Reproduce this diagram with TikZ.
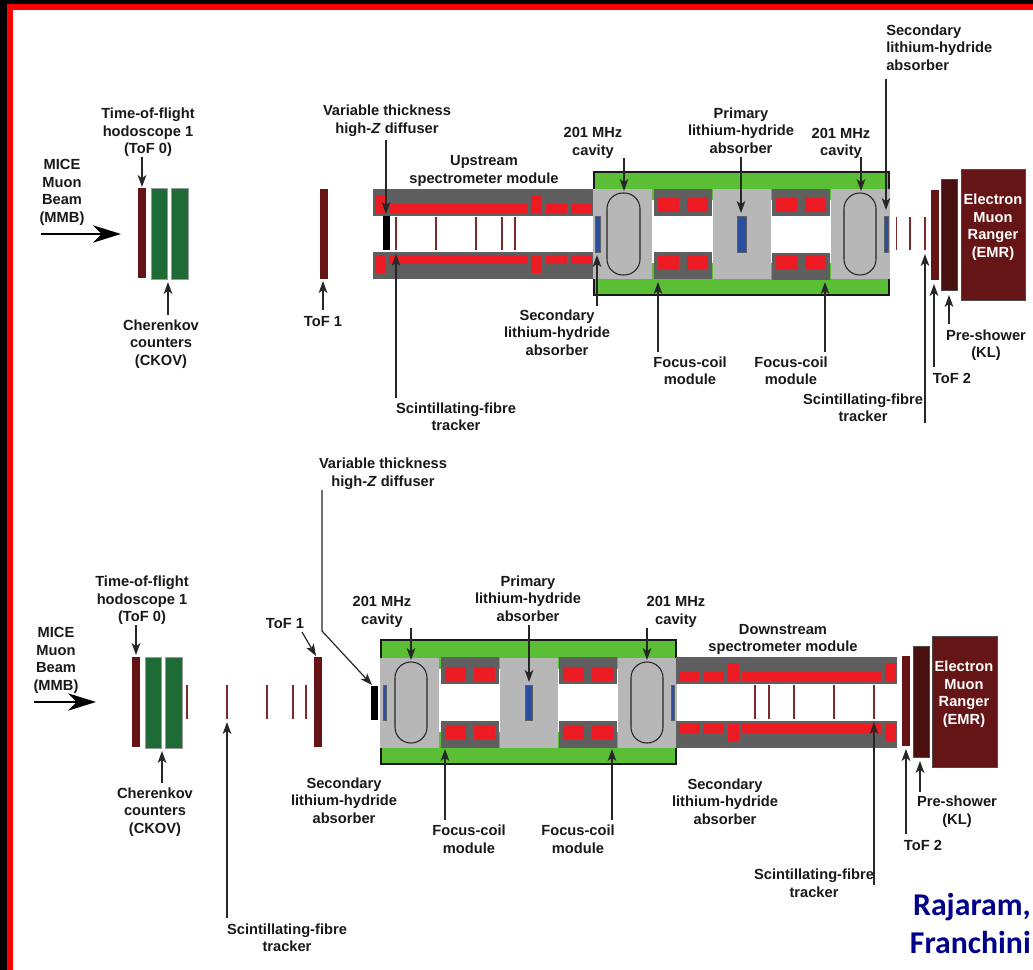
\documentclass[tikz,border=0pt]{standalone}
\usepackage{fontspec}
\setmainfont{Liberation Sans}
\newfontfamily\credfont{Carlito}
\usetikzlibrary{arrows.meta}
\definecolor{band}{HTML}{5F5F5F}
\definecolor{cell}{HTML}{B7B7B7}
\definecolor{coil}{HTML}{ED1C24}
\definecolor{jacket}{HTML}{5ABF35}
\definecolor{tof}{HTML}{651515}
\definecolor{klc}{HTML}{4A1010}
\definecolor{ckov}{HTML}{1E6B36}
\definecolor{lih}{HTML}{2B4FA0}
\definecolor{fibre}{HTML}{7F2A2A}
\definecolor{cred}{HTML}{00008B}
\tikzset{
 lab/.style={font=\bfseries\fontsize{11}{13.1}\selectfont,align=center,inner sep=0pt,text=black!90,yshift=-1.4pt},
 emrtxt/.style={lab,text=white},
 arr/.style={line width=.9pt,black!85,-{Stealth[length=9pt,width=6.5pt,inset=2.4pt]}},
 beam/.style={line width=1.7pt,black,-{Stealth[length=21pt,width=13pt,inset=6.5pt]}},
 fib/.style={line width=.8pt,fibre},
 cav/.style={draw=black!85,line width=.8pt,fill=cell,rounded corners=11.9pt},
 dkbox/.style={draw=black!70,line width=.5pt},
 liab/.style={fill=lih,draw=band,line width=.5pt},
 wall/.style={draw=black!90,line width=1.6pt,fill=jacket}
}
\newcommand{\rr}[5]{\fill[#5] (#1,#2) rectangle (#3,#4);}
\newcommand{\lab}[4]{\node[lab] (#1) at (#2,#3) {#4};}
\newcommand{\conn}[5]{\coordinate (#1s) at (#2,#3);\coordinate (#1e) at (#4,#5);\draw[arr] (#1s) -- (#1e);}
% focus-coil module: x of left edge, top y of upper and lower halves
\newcommand{\fcmod}[3]{%
 \rr{#1}{#2}{#1+58}{#2+27}{band}\rr{#1}{#3}{#1+58}{#3+27}{band}
 \rr{#1+4}{#2+9.5}{#1+25}{#2+23.5}{coil}\rr{#1+33}{#2+9.5}{#1+54}{#2+23.5}{coil}
 \rr{#1+4}{#3+3.5}{#1+25}{#3+17.5}{coil}\rr{#1+33}{#3+3.5}{#1+54}{#3+17.5}{coil}}
\begin{document}
\begin{tikzpicture}[x=.75pt,y=-.75pt]
\useasboundingbox (0,0) rectangle (1033,970);
\fill[white] (0,0) rectangle (1033,970);
% frame
\rr{0}{0}{1033}{4}{black}\rr{0}{0}{7}{970}{black}
\rr{7}{4}{1033}{10}{red}\rr{7}{4}{13}{970}{red}

% ===== TOP =====
\rr{138}{188}{146}{278}{tof}
\rr{151}{188}{167.5}{279}{ckov}\rr{171}{188}{188}{279}{ckov}
\draw[dkbox,draw=black!40] (151,188) rectangle (167.5,279) (171,188) rectangle (188,279);
\rr{320}{189}{328}{279}{tof}
% upstream spectrometer
\rr{373}{189}{594}{216}{band}\rr{373}{252}{594}{279}{band}
\rr{375}{195}{386}{213}{coil}\rr{389}{204}{528}{213}{coil}\rr{531}{195}{542}{213}{coil}\rr{546}{204}{567}{213}{coil}\rr{571}{204}{592}{213}{coil}
\rr{375}{255}{386}{273}{coil}\rr{389}{255}{528}{264}{coil}\rr{531}{255}{542}{273}{coil}\rr{546}{255}{567}{264}{coil}\rr{571}{255}{592}{264}{coil}
\rr{383}{216}{390}{250}{black}
\foreach \x in {396,436,476,502,515}{\draw[fib] (\x,217) -- (\x,250);}
% top cooling channel
\draw[wall] (594,172) rectangle (889,295);
\rr{652}{200}{713}{263}{white}\rr{771}{200}{831}{263}{white}
\rr{593}{189}{652}{279}{cell}\rr{713}{189}{771}{279}{cell}\rr{831}{189}{890}{279}{cell}
\fcmod{654}{189}{252}\fcmod{772}{189}{253}
\draw[cav] (607,193) rectangle (640,275);
\draw[cav] (844,193) rectangle (876,275);
\draw[liab] (595,216) rectangle (600,252);
\draw[liab] (737,216) rectangle (746,252);
\draw[liab] (884,216) rectangle (888,252);
\foreach \x in {896.5,910,925}{\draw[fib] (\x,217) -- (\x,250);}
\rr{931}{190}{939}{280}{tof}
\draw[dkbox,fill=klc] (941,179) rectangle (957,290);
\draw[dkbox,fill=tof] (961,169) rectangle (1025,300);
\node[emrtxt] (emrA) at (993,225.5) {Electron\\Muon\\Ranger\\(EMR)};
\lab{mmbA}{62}{190.5}{MICE\\Muon\\Beam\\(MMB)}
\lab{tofA}{148}{130.5}{Time-of-flight\\hodoscope 1\\(ToF 0)}
\lab{ckA}{161}{342}{Cherenkov\\counters\\(CKOV)}
\lab{tofoneA}{323}{320}{ToF 1}
\lab{difA}{387}{119}{Variable thickness\\high-\textit{Z} diffuser}
\lab{upA}{484}{169}{Upstream\\spectrometer module}
\lab{cavaA}{593}{141}{201 MHz\\cavity}
\lab{priA}{741}{128.5}{Primary\\lithium-hydride\\absorber}
\lab{cavbA}{841}{141.5}{201 MHz\\cavity}
\node[lab,anchor=west,align=left] (secbA) at (886,45.5) {Secondary\\lithium-hydride\\absorber};
\lab{secaA}{557}{330.5}{Secondary\\lithium-hydride\\absorber}
\lab{fcaA}{690}{369}{Focus-coil\\module}
\lab{fcbA}{791}{369}{Focus-coil\\module}
\lab{sfaA}{456}{415}{Scintillating-fibre\\tracker}
\lab{sfbA}{863}{406}{Scintillating-fibre\\tracker}
\lab{toftA}{952}{377}{ToF 2}
\lab{klA}{986}{343.5}{Pre-shower\\(KL)}
\coordinate (bas) at (41,234);\coordinate (bae) at (121,234);\draw[beam] (bas) -- (bae);
\conn{a1}{142}{157}{142}{187}
\conn{a2}{168}{315}{168}{282}
\conn{a3}{323}{310}{323}{281}
\conn{a4}{386}{140}{386}{214}
\conn{a5}{624}{158}{624}{191}
\conn{a6}{741}{157}{741}{213}
\conn{a7}{861}{157}{861}{191}
\conn{a8}{886}{79}{886}{210}
\conn{a9}{597}{306}{597}{255}
\conn{a10}{658}{352}{658}{282}
\conn{a11}{825}{352}{825}{282}
\conn{a12}{396}{398}{396}{254}
\conn{a13}{925}{423}{925}{254}
\conn{a14}{934}{367}{934}{284}
\conn{a15}{949}{324}{949}{295}

% ===== BOTTOM =====
\rr{132}{657}{140}{747}{tof}
\rr{145}{657}{161.5}{748}{ckov}\rr{165}{657}{182}{748}{ckov}
\draw[dkbox,draw=black!40] (145,657) rectangle (161.5,748) (165,657) rectangle (182,748);
\foreach \x in {187,227,267,293,306}{\draw[fib] (\x,685) -- (\x,719);}
\rr{314}{657}{322}{747}{tof}
\rr{371}{686}{378}{720}{black}
\draw[wall] (381,640) rectangle (676,764);
\rr{439}{669}{500}{732}{white}\rr{558}{669}{618}{732}{white}
\rr{380}{658}{439}{748}{cell}\rr{500}{658}{558}{748}{cell}\rr{618}{658}{677}{748}{cell}
\fcmod{441}{657}{721}\fcmod{559}{657}{721}
\draw[cav] (395,662) rectangle (427,743);
\draw[cav] (631,662) rectangle (663,743);
\draw[liab] (383,685) rectangle (386,720);
\draw[liab] (525,685) rectangle (532,720);
\draw[liab] (671,685) rectangle (674,720);
% downstream spectrometer
\rr{676}{657}{897}{684}{band}\rr{676}{721}{897}{748}{band}
\rr{679}{672}{700}{681}{coil}\rr{703}{672}{724}{681}{coil}\rr{728}{663}{739}{681}{coil}\rr{742}{672}{881}{681}{coil}\rr{885}{663}{896}{681}{coil}
\rr{679}{724}{700}{733}{coil}\rr{703}{724}{724}{733}{coil}\rr{728}{724}{739}{742}{coil}\rr{742}{724}{881}{733}{coil}\rr{885}{724}{896}{742}{coil}
\foreach \x in {755,769,794,834,874}{\draw[fib] (\x,685) -- (\x,719);}
\rr{902}{656}{910}{746}{tof}
\draw[dkbox,fill=klc] (913,646) rectangle (929,757);
\draw[dkbox,fill=tof] (932,636) rectangle (997,767);
\node[emrtxt] (emrB) at (964,692.5) {Electron\\Muon\\Ranger\\(EMR)};
\lab{mmbB}{56}{658.5}{MICE\\Muon\\Beam\\(MMB)}
\lab{tofB}{142}{598.5}{Time-of-flight\\hodoscope 1\\(ToF 0)}
\lab{ckB}{155}{810}{Cherenkov\\counters\\(CKOV)}
\lab{tofoneB}{285}{622}{ToF 1}
\lab{difB}{383}{472}{Variable thickness\\high-\textit{Z} diffuser}
\lab{cavaB}{382}{610}{201 MHz\\cavity}
\lab{priB}{528}{596.5}{Primary\\lithium-hydride\\absorber}
\lab{cavbB}{676}{610}{201 MHz\\cavity}
\lab{downB}{783}{637.5}{Downstream\\spectrometer module}
\lab{secaB}{344}{798.5}{Secondary\\lithium-hydride\\absorber}
\lab{secbB}{725}{799.5}{Secondary\\lithium-hydride\\absorber}
\lab{fcaB}{469}{837.5}{Focus-coil\\module}
\lab{fcbB}{578}{837.5}{Focus-coil\\module}
\lab{sfaB}{287}{936}{Scintillating-fibre\\tracker}
\lab{sfbB}{814}{881.5}{Scintillating-fibre\\tracker}
\lab{toftB}{923}{844}{ToF 2}
\lab{klB}{957}{810}{Pre-shower\\(KL)}
\coordinate (bbs) at (34,702);\coordinate (bbe) at (96,702);\draw[beam] (bbs) -- (bbe);
\conn{b1}{136}{625}{136}{655}
\conn{b2}{162}{783}{162}{751}
\conn{b3}{302}{632}{316}{656}
\coordinate (b4s) at (322,490);\coordinate (b4m) at (322,631);\coordinate (b4e) at (372,685);
\draw[arr] (b4s) -- (b4m) -- (b4e);
\conn{b5}{411}{628}{411}{660}
\conn{b6}{529}{625}{529}{682}
\conn{b7}{647}{628}{647}{660}
\conn{b8}{445}{820}{445}{749}
\conn{b9}{612}{820}{612}{749}
\conn{b10}{227}{918}{227}{722}
\conn{b11}{874}{885}{874}{722}
\conn{b12}{906}{834}{906}{749}
\conn{b13}{920}{792}{920}{761}
\node[anchor=east,inner sep=0pt,text=cred,font=\credfont\bfseries\fontsize{23.8}{28.5}\selectfont,align=right] (credit) at (1031,923) {Rajaram,\\Franchini};
\end{tikzpicture}
\end{document}
